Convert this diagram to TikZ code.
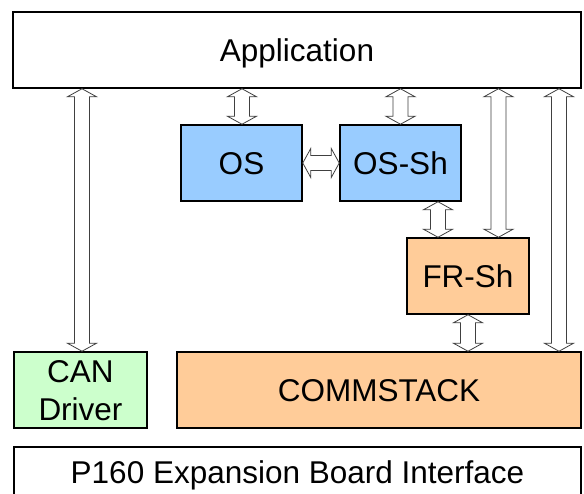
\documentclass[tikz,border=0pt]{standalone}
\usepackage{fontspec}
\setmainfont{Liberation Sans}
\usetikzlibrary{calc}
\definecolor{osblue}{HTML}{99CCFF}
\definecolor{frorange}{HTML}{FFCC99}
\definecolor{cangreen}{HTML}{CCFFCC}
\tikzset{
  box/.style={draw=black, line width=1.5pt, inner sep=0pt,
    font=\fontsize{31.5}{37.8}\selectfont, text height=22.5pt, text depth=0pt},
  barrow/.style={draw=black!75, line width=0.8pt, fill=white, line join=miter}
}
\newcommand{\vbarrow}[3]{% #1 x, #2 upper node, #3 lower node
  \path (#1,0) coordinate (vx);
  \path (#2.south -| vx) coordinate (T) (#3.north -| vx) coordinate (B);
  \draw[barrow] (T) -- ($(T)+(14.5,8)$) -- ($(T)+(7.5,8)$) -- ($(B)+(7.5,-8)$)
    -- ($(B)+(14.5,-8)$) -- (B) -- ($(B)+(-14.5,-8)$) -- ($(B)+(-7.5,-8)$)
    -- ($(T)+(-7.5,8)$) -- ($(T)+(-14.5,8)$) -- cycle;
}
\begin{document}
\begin{tikzpicture}[x=1pt,y=-1pt]
\clip (0,0) rectangle (584,494);
\fill[white] (0,0) rectangle (584,494);
\node[box, fill=white, minimum width=568, minimum height=76] (app) at (297,50) {Application};
\node[box, fill=osblue, minimum width=121, minimum height=76] (os) at (241.5,163) {OS};
\node[box, fill=osblue, minimum width=121, minimum height=76] (ossh) at (400.5,163) {OS-Sh};
\node[box, fill=frorange, minimum width=122, minimum height=76] (frsh) at (468,276) {FR-Sh};
\node[box, fill=cangreen, minimum width=133, minimum height=76, align=center, text height=60.3pt, text depth=0pt] (can) at (80.5,390) {CAN\\Driver};
\node[box, fill=frorange, minimum width=404, minimum height=76] (comm) at (379,390) {COMMSTACK};
\node[box, fill=white, minimum width=567, minimum height=51] (p160) at (297.5,472.5) {P160 Expansion Board Interface};
% vertical block arrows
\vbarrow{82}{app}{can}
\vbarrow{242}{app}{os}
\vbarrow{400.5}{app}{ossh}
\vbarrow{438}{ossh}{frsh}
\vbarrow{498.5}{app}{frsh}
\vbarrow{559}{app}{comm}
\vbarrow{468}{frsh}{comm}
% horizontal block arrow OS <-> OS-Sh
\path (os.east) coordinate (L) (ossh.west) coordinate (R);
\draw[barrow] (L) -- ($(L)+(8,-14.5)$) -- ($(L)+(8,-7.5)$) -- ($(R)+(-8,-7.5)$)
  -- ($(R)+(-8,-14.5)$) -- (R) -- ($(R)+(-8,14.5)$) -- ($(R)+(-8,7.5)$)
  -- ($(L)+(8,7.5)$) -- ($(L)+(8,14.5)$) -- cycle;
\end{tikzpicture}
\end{document}
